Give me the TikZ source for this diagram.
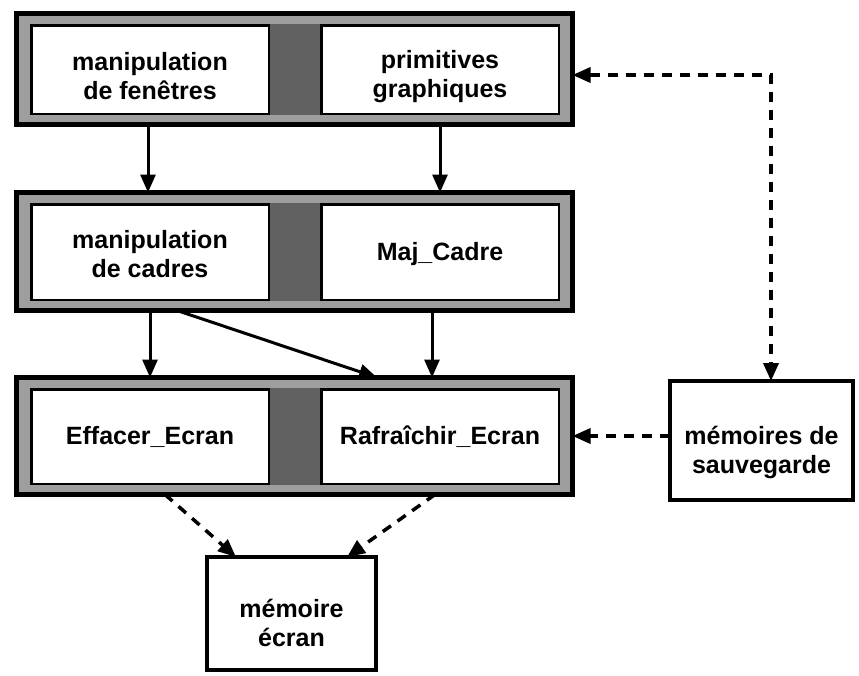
\documentclass[tikz,border=0pt]{standalone}
\usepackage{fontspec}
\setmainfont{Liberation Sans}
\usetikzlibrary{arrows.meta,calc}
\begin{document}
\begin{tikzpicture}[x=1pt,y=-1pt,
  frame/.style={draw=black, line width=5pt, fill=black!38, inner sep=0pt, outer sep=0pt},
  column/.style={fill=black!62, draw=none},
  labeltext/.style={align=center, inner sep=0pt, font=\bfseries\fontsize{25}{29}\selectfont},
  module/.style={draw=black, line width=2.5pt, fill=white, inner sep=0pt, outer sep=0pt},
  store/.style={draw=black, line width=4pt, fill=white, inner sep=0pt, outer sep=0pt},
  head/.style={Triangle[length=18pt,width=15pt]},
  flow/.style={line width=3pt, -{Triangle[length=18pt,width=15pt]}},
  dflow/.style={line width=3.5pt, dash pattern=on 10pt off 8pt}]

\useasboundingbox (0,0) rectangle (859,675);

% --- upper layer: window handling and graphics primitives
\node[frame, minimum width=556pt, minimum height=111pt] (g1) at (294.5,69) {};
\fill[column] (270,24) rectangle (320,115);
\node[module, minimum width=237.5pt, minimum height=88.5pt] (fen) at (150,69.5) {};
\node[module, minimum width=237.5pt, minimum height=88.5pt] (prim) at (440,69.5) {};
\node[labeltext, yshift=-7pt] (fent) at (fen) {manipulation\\de fenêtres};
\node[labeltext, yshift=-7pt] (primt) at (prim) {primitives\\graphiques};

% --- middle layer: frame handling
\node[frame, minimum width=556pt, minimum height=118pt] (g2) at (294.5,251.5) {};
\fill[column] (270,203) rectangle (320,301);
\node[module, minimum width=237.5pt, minimum height=95.5pt] (cad) at (150,252) {};
\node[module, minimum width=237.5pt, minimum height=95.5pt] (maj) at (440,252) {};
\node[labeltext, yshift=-2pt] (cadt) at (cad) {manipulation\\de cadres};
\node[labeltext, yshift=-2pt] (majt) at (maj) {Maj\_Cadre};

% --- lower layer: screen operations
\node[frame, minimum width=556pt, minimum height=117pt] (g3) at (294.5,436) {};
\fill[column] (270,388) rectangle (320,485);
\node[module, minimum width=237.5pt, minimum height=94.5pt] (eff) at (150,436.5) {};
\node[module, minimum width=237.5pt, minimum height=94.5pt] (raf) at (440,436.5) {};
\node[labeltext] (efft) at (eff) {Effacer\_Ecran};
\node[labeltext] (raft) at (raf) {Rafraîchir\_Ecran};

% --- memories
\node[store, minimum width=183pt, minimum height=119pt] (sav) at (761.5,440.5) {};
\node[labeltext, yshift=-12pt] (savt) at (sav) {mémoires de\\sauvegarde};
\node[store, minimum width=169pt, minimum height=113pt] (ecr) at (291.5,613.5) {};
\node[labeltext, yshift=-9pt] (ecrt) at (ecr) {mémoire\\écran};

% --- calls between layers
\coordinate (xa) at (148,0);
\coordinate (xb) at (440,0);
\coordinate (xc) at (150,0);
\coordinate (xd) at (432,0);
\coordinate (xe) at (177,0);
\coordinate (xf) at (377,0);
\draw[flow] (g1.south -| xa) -- (g2.north -| xa);
\draw[flow] (g1.south -| xb) -- (g2.north -| xb);
\draw[flow] (g2.south -| xc) -- (g3.north -| xc);
\draw[flow] (g2.south -| xd) -- (g3.north -| xd);
\draw[flow] (g2.south -| xe) -- (g3.north -| xf);

% --- data exchanges with the memories
\coordinate (hz) at (771,75);
\draw[dflow, {Triangle[length=18pt,width=15pt]}-{Triangle[length=18pt,width=15pt]}]
  (g1.east |- hz) -- (hz) -- (sav.north -| hz);
\draw[dflow, -{Triangle[length=18pt,width=15pt]}] (sav.west |- g3.east) -- (g3.east);
\coordinate (xg) at (165,0);
\coordinate (xh) at (236,0);
\coordinate (xi) at (435,0);
\coordinate (xj) at (347,0);
\draw[dflow, -{Triangle[length=18pt,width=15pt]}] (g3.south -| xg) -- (ecr.north -| xh);
\draw[dflow, -{Triangle[length=18pt,width=15pt]}] (g3.south -| xi) -- (ecr.north -| xj);
\end{tikzpicture}
\end{document}
